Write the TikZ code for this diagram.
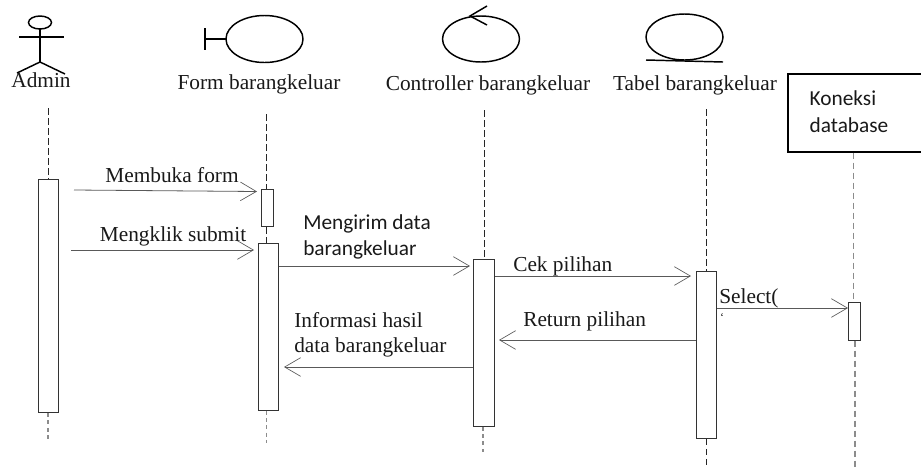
\documentclass[tikz,border=0pt]{standalone}
\usepackage{fontspec}
\setmainfont{Liberation Serif}
\newfontfamily\calfont{Carlito}
\usepackage{tikz}
\usetikzlibrary{arrows.meta}
\tikzstyle{label} = [inner sep=0pt, font=\fontsize{16}{19}\selectfont, text=black!90]
\tikzstyle{note} = [inner sep=0pt, align=left, font=\calfont\fontsize{16}{20}\selectfont, text=black!90]
\tikzstyle{bar} = [rectangle, inner sep=0pt, minimum width=20pt, draw=black!80, line width=0.7pt, fill=white]
\tikzstyle{symbol} = [line width=1.1pt, draw=black]
\tikzset{
  arrow/.style={->,>={Straight Barb[length=12pt,width=14pt,line width=0.5pt]}, line width=0.6pt, draw=black!65},
  lifeline/.style={draw=black!85, line width=0.6pt, dash pattern=on 5pt off 2.5pt},
  fadeline/.style={draw=black!45, line width=0.8pt, dash pattern=on 3pt off 2.5pt},
}

\begin{document}
\begin{tikzpicture}[x=0.75pt,y=-0.75pt]
\useasboundingbox (0,0) rectangle (921,469);

% actor and symbols
\draw [symbol] (40,22.5) ellipse (11.5 and 6.5);
\draw [symbol] (40,29) -- (40,62);
\draw [symbol] (19,37) -- (64,37);
\draw [symbol] (17,73) -- (40,62) -- (65,74);
\draw [symbol] (264.5,39) ellipse (38.5 and 23.5);
\draw [symbol] (205,39) -- (226,39);
\draw [symbol] (205,28) -- (205,50);
\draw [symbol] (481,39) ellipse (38.5 and 23);
\draw [symbol] (487,6) -- (470,16) -- (487,25);
\draw [symbol] (684.5,37) ellipse (38.5 and 23);
\draw [symbol] (646,60) -- (723,62);

% titles
\node (admin) [label] at (41,80) {Admin};
\node (form) [label] at (259,84) {Form barangkeluar};
\node (ctrl) [label] at (488,85) {Controller barangkeluar};
\node (tabel) [label] at (695,85) {Tabel barangkeluar};
\node (koneksi) [rectangle, draw=black, line width=1.3pt, minimum width=140pt, minimum height=58pt] at (881,113) {};
\node (koneksiText) [note] at (849,111.5) {Koneksi\\database};

% activation bars
\node (adminBar) [bar, minimum width=15pt, minimum height=175pt] at (48,296) {};
\node (formBar1) [bar, minimum width=9pt, minimum height=28pt] at (267,208) {};
\node (formBar2) [bar, minimum width=15pt, minimum height=125pt] at (268.25,326.75) {};
\node (ctrlBar) [bar, minimum width=15.5pt, minimum height=125pt] at (484,343) {};
\node (tabelBar) [bar, minimum width=15pt, minimum height=125pt] at (706.5,355) {};
\node (dbBar) [bar, minimum width=9pt, minimum height=28pt] at (854.5,321.5) {};

% lifeline ends
\coordinate (adminTop) at (48.5,108);
\coordinate (adminEnd) at (48,441);
\coordinate (formTop) at (266.5,114);
\coordinate (formEnd) at (266.5,443);
\coordinate (ctrlTop) at (484.5,110);
\coordinate (ctrlEnd) at (483,452);
\coordinate (tabelTop) at (706.5,109);
\coordinate (tabelEnd) at (706.5,468);
\coordinate (dbTop) at (853.5,152);
\coordinate (dbEnd) at (855,467);

\draw [lifeline] (adminTop) -- (adminBar.north -| adminTop);
\draw [fadeline] (adminBar.south -| adminEnd) -- (adminEnd);
\draw [lifeline] (formTop) -- (formBar1.north -| formTop);
\draw [lifeline] (formBar1.south -| formTop) -- (formBar2.north -| formTop);
\draw [fadeline] (formBar2.south -| formEnd) -- (formEnd);
\draw [lifeline] (ctrlTop) -- (ctrlBar.north -| ctrlTop);
\draw [fadeline] (ctrlBar.south -| ctrlEnd) -- (ctrlEnd);
\draw [lifeline] (tabelTop) -- (tabelBar.north -| tabelTop);
\draw [lifeline] (tabelBar.south -| tabelEnd) -- (tabelEnd);
\draw [fadeline, dash pattern=on 5pt off 2.5pt] (koneksi.south -| dbTop) -- (dbBar.north -| dbTop);
\draw [fadeline, dash pattern=on 5pt off 2.5pt] (dbBar.south -| dbEnd) -- (dbEnd);

% messages
\coordinate (bukaStart) at (74,190);
\coordinate (bukaEnd) at (257,191.5);
\coordinate (klikStart) at (71,250);
\coordinate (klikEnd) at (254,250);
\coordinate (kirimEnd) at (470,266);
\coordinate (cekEnd) at (691,276);
\coordinate (selectEnd) at (848,308);
\coordinate (returnEnd) at (499,340);
\coordinate (infoEnd) at (284,367);

\draw [arrow] (bukaStart) -- (bukaEnd);
\draw [arrow] (klikStart) -- (klikEnd);
\draw [arrow] (formBar2.east |- kirimEnd) -- (kirimEnd);
\draw [arrow] (ctrlBar.east |- cekEnd) -- (cekEnd);
\draw [arrow] (tabelBar.east |- selectEnd) -- (selectEnd);
\draw [arrow] (tabelBar.west |- returnEnd) -- (returnEnd);
\draw [arrow] (ctrlBar.west |- infoEnd) -- (infoEnd);

% message labels
\node (buka) [label] at (172,175) {Membuka form};
\node (klik) [label] at (173,236) {Mengklik submit};
\node (kirim) [note, anchor=west] at (303,237) {Mengirim data\\barangkeluar};
\node (cek) [label, anchor=west] at (513,266) {Cek pilihan};
\node (select) [label, anchor=west] at (719,298) {Select(};
\node (tick) [label, font=\fontsize{9}{9}\selectfont] at (722,317) {`};
\node (return) [label, anchor=west] at (523,321) {Return pilihan};
\node (info) [label, anchor=west, align=left] at (294,334.5) {Informasi hasil\\data barangkeluar};
\end{tikzpicture}
\end{document}
